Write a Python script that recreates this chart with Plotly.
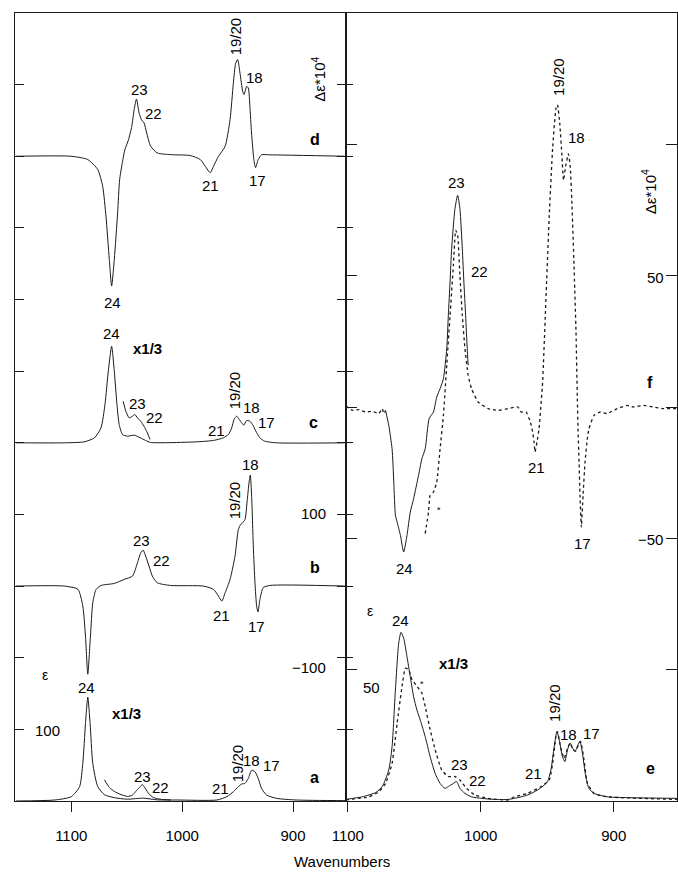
import plotly.graph_objects as go

# ---------------- data (wavenumber, value) ----------------
# Left panel: spectra a (eps, x1/3), b (VCD), c (eps, x1/3), d (VCD)
d_wn = [1150, 1100, 1085.1, 1076.1, 1071.7, 1068.7, 1065.7, 1063.6, 1061.2, 1058.2,
        1056.4, 1054.3, 1051.7, 1048.4, 1045.4, 1043.3, 1041.2, 1038.8, 1036.7, 1034.3,
        1032.0, 1028.4, 1022.4, 1010.5, 992.6, 983.6, 979.1, 974.7, 971.7, 967.2,
        961.2, 956.8, 953.8, 951.7, 949.9, 947.8, 945.4, 944.2, 941.8, 940.3,
        938.9, 937.4, 935.3, 933.8, 931.4, 928.4, 920.9, 852]
d_val = [0, 0, -4.6, -18.6, -41.8, -83.7, -144, -181, -144, -79,
         -33, -12, 9, 23, 42, 65, 80, 60.4, 51, 46.5,
         32.5, 14, 4.6, 2.3, 1, -4.6, -14, -23, -14, 0,
         14, 51, 102, 130, 135, 116, 90.7, 86, 97.6, 95.3,
         69.7, 32.5, -4.6, -16, -4.6, 2, 2, 0]

c_wn = [1150, 1106, 1088.1, 1079.1, 1073.2, 1069.6, 1066.6, 1063.6, 1061.2, 1058.8,
        1056.8, 1053.8, 1049.3, 1043.3, 1038.9, 1032.9, 1028.4, 986.6, 971.7, 962.8,
        958.3, 955.3, 953.2, 950.8, 948.4, 946.3, 944.3, 941.9, 938.9, 936.5,
        933.5, 929.9, 925.5, 915, 852]
c_val = [0, 0, 1.4, 7, 20.9, 53.5, 100, 134.8, 100, 53.5,
         25.6, 11.6, 9.3, 10.7, 7.9, 3.3, 0.5, 1.4, 3.3, 7,
         11.6, 20.9, 32.5, 37.2, 32.5, 27.9, 24.6, 31.1, 30.2, 25.6,
         16.3, 7, 2.3, 0, 0]
c_exp_wn = [1053.2, 1050.8, 1047.8, 1044.8, 1042.7, 1040.3, 1037.4, 1034.4, 1031.4, 1029]
c_exp_val = [58.1, 44.2, 34.9, 37.2, 39.5, 34.9, 30.2, 23.2, 13.9, 4.6]

b_wn = [1150, 1106, 1094, 1089.6, 1087.2, 1085.1, 1082.7, 1080.6, 1077.6, 1073.1,
        1061.2, 1052.3, 1044.8, 1040.3, 1037.3, 1035.2, 1032.9, 1029.9, 1026.9, 1022.4,
        1010.5, 980.6, 971.7, 967.2, 964.2, 961.2, 956.8, 952.3, 949.3, 947.2,
        945.4, 943.3, 941.2, 939.7, 938.5, 937.3, 935.8, 934.3, 932.8, 931.6,
        929.8, 926.9, 920.9, 852]
b_val = [0, 0, -4.6, -27.9, -69.7, -123, -69.7, -23.2, -4.6, 0.9,
         3.7, 9.3, 14, 32.5, 46.5, 50.2, 41.8, 27.9, 14, 4.6,
         0.9, 0, -4.6, -14, -20.9, -9.3, 9.3, 41.8, 79, 86,
         88.3, 93, 121, 144, 155, 125, 55.8, 4.6, -27.9, -36,
         -18.6, -2.3, 0.9, 0]

a_wn = [1150, 1114.9, 1100, 1092.5, 1089.6, 1087.2, 1085.1, 1083, 1080.6, 1076.2,
        1070.1, 1061.2, 1049.3, 1035.2, 1022.4, 1004.5, 968.7, 959.7, 953.8, 949.3,
        946.3, 943.3, 940.3, 937.3, 934.3, 931.4, 928.4, 923.9, 914.9, 897, 852]
a_val = [0, 1.4, 6, 20, 52.5, 108, 145, 108, 52.5, 20.4,
         8.8, 4.6, 2.5, 4, 1.6, 1.4, 1.4, 6, 13, 20,
         23.7, 24.6, 31.6, 43, 40.9, 31.6, 17.7, 8.4, 3.7, 1.4, 0.5]
a_exp_wn = [1070.1, 1065.7, 1061.2, 1055.2, 1049.3, 1045, 1041.8, 1038.5, 1035.9, 1033,
            1030, 1026, 1020, 1010]
a_exp_val = [29.7, 19, 13.4, 9, 6.4, 8, 13.4, 19, 22.7, 17, 10, 5, 2.5, 1.4]

# Right panel: f (VCD, solid + dotted), e (eps x1/3, solid + dotted)
f_sol_wn = [1071.6, 1069.2, 1066.7, 1065.4, 1064.2, 1062.9, 1060.4, 1058, 1055.5, 1053,
            1050.5, 1046.8, 1044.3, 1041.8, 1038.8, 1035.6, 1033.1, 1030.6, 1028.1, 1025.6,
            1024.4, 1023.1, 1021.9, 1019.4, 1017.4, 1015.7, 1013.9, 1012.7, 1011.4, 1010.2,
            1009.5]
f_sol_val = [-1.3, -7, -15.9, -28.6, -41.2, -43.8, -48.9, -55.2, -48.9, -40,
             -34.9, -26, -19.7, -15.9, -4.4, -1.9, 3.8, 7, 10.8, 22.2,
             34.9, 47.6, 60.3, 75.5, 80.6, 75.5, 60.3, 47.6, 34.9, 22.2,
             15.9]
f_dot1_wn = [1101.5, 1096.5, 1091.5, 1086.6, 1081.6, 1076.6, 1074.1, 1072.9, 1071.6]
f_dot1_val = [0.4, -1.3, -1, -1.9, -1.6, -2.5, -0.6, -2.5, -1.3]
f_dot_wn = [1041.8, 1039.3, 1038.1, 1035.6, 1033.1, 1030.6, 1028.1, 1025.6, 1023.1, 1020.6,
            1018.9, 1017.4, 1015.7, 1013.9, 1011.9, 1009.5, 1007, 1002, 994.5, 987.1,
            979.6, 972.1, 969.7, 965.9, 962.7, 961, 960, 959.2, 957.7, 956.2,
            953.5, 951, 948.5, 946, 943.5, 942.3, 940.5, 939, 937.8, 936.1,
            934.1, 932.8, 931.6, 929.9, 928.4, 927.4, 926.9, 926.1, 925.4, 924.4,
            923.1, 921.6, 919.9, 918.7, 914.9, 910, 905, 897.5, 890, 885.1,
            877.6, 870.1, 862.7, 852.5]
f_dot_val = [-48.2, -40, -33.6, -32.4, -28.6, -15.9, -3.2, 15.9, 34.9, 53.9,
             67.3, 65.4, 50.1, 34.9, 22.2, 12.1, 7, 1.9, -0.6, -1.3,
             -0.6, 0, -1.9, -1.9, -5.7, -9.5, -13.3, -17.1, -13.3, -8.3,
             9.5, 41.2, 73, 98.4, 113.6, 115.1, 107.2, 95.8, 86.3, 92,
             96.4, 92, 79.3, 53.9, 28.6, 3.2, -8.3, -20.9, -33.6, -45.7,
             -33.6, -20.9, -12.1, -8.3, -3.2, -1.9, -2.5, -0.6, 0.6, 0,
             0.6, 0, -0.6, -0.6]

e_sol_wn = [1101.5, 1089.1, 1079.1, 1074.1, 1069.2, 1066.7, 1064.2, 1061.7, 1060, 1058,
            1055.5, 1053, 1050.5, 1048, 1045.5, 1041.8, 1038.1, 1034.3, 1030.6, 1026.9,
            1024.4, 1020.6, 1018.2, 1015.7, 1011.9, 1007, 999.5, 989.6, 979.6, 974.6,
            964.7, 957.2, 952.2, 949.8, 947.3, 944.8, 942.8, 941, 938.6, 936.8,
            934.8, 932.8, 931.1, 929.1, 926.9, 925.4, 923.6, 921.1, 918.7, 914.9,
            905, 892.5, 852.5]
e_sol_val = [0.6, 1.6, 3.2, 5.5, 11.8, 20.7, 42.3, 60.1, 64.2, 62,
             55, 47.3, 39.7, 34.6, 30.8, 24.5, 16.9, 10.5, 6.7, 4.8,
             5.5, 6.7, 7.4, 4.8, 2.9, 1.6, 1, 0.6, 0.6, 1,
             2.3, 4.2, 6.1, 7.4, 11.8, 20.7, 26.4, 23.2, 16.9, 15,
             19.5, 22.1, 20.2, 18.9, 21.4, 22.7, 18.3, 9.4, 4.8, 2.9,
             1.6, 1.3, 1]
e_dot_wn = [1101.5, 1084.1, 1076.6, 1071.6, 1066.7, 1062.9, 1059.2, 1056.7, 1054.2, 1051.7,
            1048, 1044.3, 1041.8, 1038.1, 1034.3, 1029.4, 1024.4, 1019.4, 1015.7, 1010.7,
            1004.5, 994.5, 979.6, 974.6, 964.7, 954.7, 948.5, 946, 943.5, 942.3,
            939.8, 937.3, 934.8, 932.8, 930.6, 928.6, 926.1, 924.9, 922.4, 919.9,
            914.9, 905, 852.5]
e_dot_val = [0.4, 1.6, 3.5, 6.7, 14.3, 29.6, 43.7, 50.6, 50, 46.2,
             43.7, 41.1, 36, 27.2, 19.5, 11.8, 9.3, 9.3, 8, 4.8,
             2.3, 1, 0.4, 1.6, 2.9, 5.5, 8, 14.3, 24.5, 26.4,
             20, 16.2, 20, 22.1, 19.5, 18.9, 22.1, 22.7, 15.7, 6.8,
             2.9, 1.6, 0.6]

x_tick_vals = [1100, 1000, 900]
x_tick_text = ["1100", "1000", "900"]

# ---------------- layout constants ----------------
W, H = 678, 876
ML, MR, MT, MB = 10, 1, 13, 75
PW, PH = W - ML - MR, H - MT - MB
LEFT_OFFSETS = {"a": 0, "b": 300, "c": 500, "d": 900}
E_OFFSET = -150
INK = "#1a1a1a"
FONT = "Liberation Sans, Arial, Helvetica, sans-serif"
SPLIT_PX = 343.5


def px(xp, yp):
    return (xp - ML) / PW, (MT + PH - yp) / PH


def shift(vals, off):
    return [v + off for v in vals]


fig = go.Figure()
solid = dict(color=INK, width=1, shape="spline", smoothing=0.6)
dotted = dict(color=INK, width=1.3, dash="dot", shape="spline", smoothing=0.4)

for wn, val, key in [(d_wn, d_val, "d"), (c_wn, c_val, "c"), (c_exp_wn, c_exp_val, "c"),
                     (b_wn, b_val, "b"), (a_wn, a_val, "a"), (a_exp_wn, a_exp_val, "a")]:
    fig.add_trace(go.Scatter(x=wn, y=shift(val, LEFT_OFFSETS[key]), mode="lines",
                             line=solid, xaxis="x", yaxis="y", showlegend=False,
                             hoverinfo="skip"))

fig.add_trace(go.Scatter(x=f_sol_wn, y=f_sol_val, mode="lines", line=solid,
                         xaxis="x2", yaxis="y2", showlegend=False))
fig.add_trace(go.Scatter(x=f_dot1_wn, y=f_dot1_val, mode="lines", line=dotted,
                         xaxis="x2", yaxis="y2", showlegend=False))
fig.add_trace(go.Scatter(x=f_dot_wn, y=f_dot_val, mode="lines", line=dotted,
                         xaxis="x2", yaxis="y2", showlegend=False))
fig.add_trace(go.Scatter(x=e_sol_wn, y=shift(e_sol_val, E_OFFSET), mode="lines", line=solid,
                         xaxis="x2", yaxis="y2", showlegend=False))
fig.add_trace(go.Scatter(x=e_dot_wn, y=shift(e_dot_val, E_OFFSET), mode="lines", line=dotted,
                         xaxis="x2", yaxis="y2", showlegend=False))
# trace that carries the left-panel grid ticks on the right panel's left edge
fig.add_trace(go.Scatter(x=[1000], y=[500], mode="lines", xaxis="x2", yaxis="y3",
                         showlegend=False, line=dict(width=0)))

# ---------------- axes ----------------
split = (SPLIT_PX - ML) / PW
# wavenumber scales: left 111.7 px / 100 cm-1 (1100 at px 66.7); right 134 px / 100 (1000 at px 479.3)
left_range = [1100 + (66.7 - ML) / 1.117, 1100 - (SPLIT_PX - 66.7) / 1.117]
right_range = [1000 + (479.3 - SPLIT_PX) / 1.34, 1000 - (W - MR - 479.3) / 1.34]

common_x = dict(tickvals=x_tick_vals, ticktext=x_tick_text, ticks="outside", ticklen=10,
                tickcolor=INK, showline=True, linecolor=INK, linewidth=1, mirror=True,
                showgrid=False, zeroline=False,
                tickfont=dict(family=FONT, size=15, color="black"), ticklabelstandoff=11)

fig.update_layout(
    width=W, height=H, margin=dict(l=ML, r=MR, t=MT, b=MB),
    paper_bgcolor="white", plot_bgcolor="white", showlegend=False,
    xaxis=dict(domain=[0, split], range=left_range, anchor="y", **common_x),
    yaxis=dict(domain=[0, 1], range=[0, 1100], tickvals=list(range(0, 1101, 100)),
               ticks="inside", ticklen=9, tickcolor=INK, showticklabels=False,
               showline=True, linecolor=INK, linewidth=1, mirror="ticks",
               showgrid=False, zeroline=False, anchor="x"),
    xaxis2=dict(domain=[split, 1], range=right_range, anchor="y2", **common_x),
    yaxis2=dict(domain=[0, 1], range=[-150, 150], tickvals=[-100, -50, 0, 50, 100],
                ticks="inside", ticklen=11, tickcolor=INK, showticklabels=False,
                side="right", showline=True, linecolor=INK, linewidth=1, mirror="ticks",
                showgrid=False, zeroline=False, anchor="x2"),
    yaxis3=dict(overlaying="y2", anchor="x2", side="left", range=[0, 1100],
                tickvals=list(range(100, 1100, 100)), ticks="inside", ticklen=7,
                tickcolor=INK, showticklabels=False, showline=False, showgrid=False,
                zeroline=False),
)

# ---------------- text labels (text, x px, y px, size, angle) ----------------
N = 15   # peak-number size
B = 16   # bold panel letters
labels = [
    # d
    ("19/20", 233, 36, N, -90), ("18", 251, 77, N, 0), ("23", 135, 90, N, 0),
    ("22", 150, 113, N, 0), ("<b>d</b>", 312, 139, B, 0), ("21", 207, 185, N, 0),
    ("17", 254, 180, N, 0), ("24", 108, 302, N, 0),
    ("Δε*10<sup>4</sup>", 316, 79, 15, -90),
    # c
    ("24", 107, 333, N, 0), ("<b>x1/3</b>", 144, 348, N, 0), ("23", 133, 403, N, 0),
    ("22", 151, 417, N, 0), ("21", 213, 430, N, 0), ("19/20", 231, 390, N, -90),
    ("18", 248, 407, N, 0), ("17", 263, 422, N, 0), ("<b>c</b>", 311, 422, B, 0),
    # b
    ("18", 247, 464, N, 0), ("19/20", 231, 500, N, -90), ("100", 311, 513, N, 0),
    ("23", 137, 540, N, 0), ("22", 158, 560, N, 0), ("<b>b</b>", 312, 567, B, 0),
    ("21", 218, 615, N, 0), ("17", 253, 626, N, 0), ("−100", 306, 667, N, 0),
    ("ε", 40, 675, 14, 0), ("24", 82, 687, N, 0),
    # a
    ("<b>x1/3</b>", 122, 713, N, 0), ("100", 43, 730, N, 0), ("23", 138, 776, N, 0),
    ("22", 157, 787, N, 0), ("19/20", 234, 763, N, -90), ("18", 248, 760, N, 0),
    ("17", 268, 765, N, 0), ("21", 217, 788, N, 0), ("<b>a</b>", 312, 777, B, 0),
    # f
    ("19/20", 557, 77, N, -90), ("18", 576, 138, N, 0), ("23", 455, 182, N, 0),
    ("Δε*10<sup>4</sup>", 648, 192, 15, -90), ("22", 478, 272, N, 0),
    ("50", 655, 277, N, 0), ("<b>f</b>", 650, 382, B, 0),
    ("21", 535, 468, N, 0), ("*", 437, 510, 9, 0), ("17", 582, 543, N, 0),
    ("−50", 650, 539, N, 0), ("24", 402, 568, N, 0),
    # e
    ("ε", 368, 611, 14, 0), ("24", 398, 620, N, 0), ("<b>x1/3</b>", 452, 663, N, 0),
    ("*", 420, 684, 9, 0), ("50", 369, 687, N, 0), ("19/20", 553, 703, N, -90),
    ("18", 568, 734, N, 0), ("17", 591, 733, N, 0), ("23", 458, 764, N, 0),
    ("22", 476, 780, N, 0), ("21", 532, 773, N, 0), ("<b>e</b>", 650, 768, B, 0),
    # axis title
    ("Wavenumbers", 339, 862, 15, 0),
]

for text, xp, yp, size, ang in labels:
    xa, ya = px(xp, yp)
    fig.add_annotation(x=xa, y=ya, xref="paper", yref="paper", text=text, showarrow=False,
                       textangle=ang, xanchor="center", yanchor="middle",
                       font=dict(family=FONT, size=size, color="black"))

fig.write_html("out.html")
